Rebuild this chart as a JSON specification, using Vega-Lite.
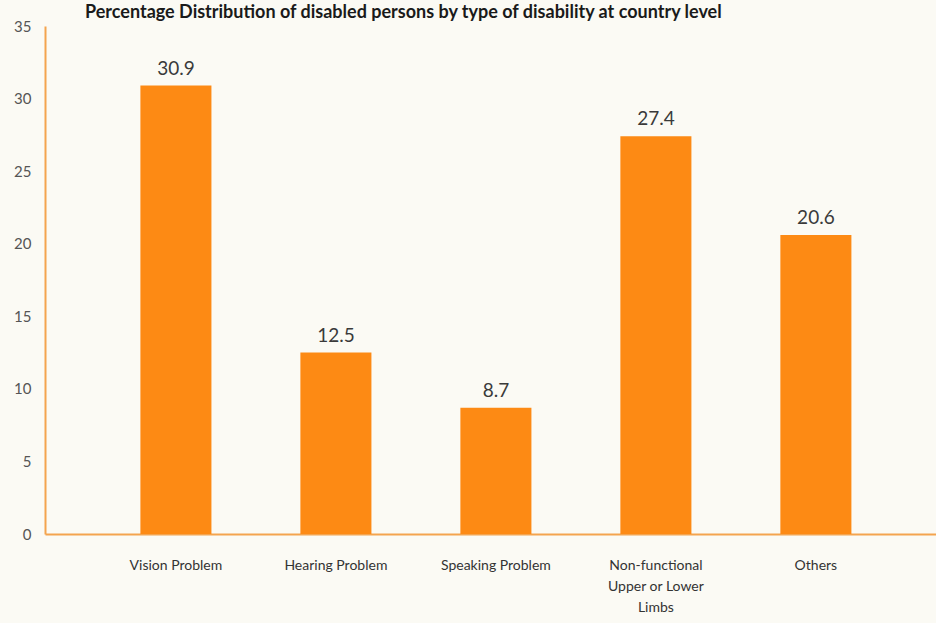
{
  "$schema": "https://vega.github.io/schema/vega-lite/v6.json",
  "width": 891,
  "height": 508,
  "autosize": {"type": "none"},
  "padding": {"left": 45, "top": 26, "right": 0, "bottom": 89},
  "background": "#fbfaf4",
  "title": {
    "text": "Percentage Distribution of disabled persons by type of disability at country level",
    "anchor": "start",
    "frame": "group",
    "dx": 40,
    "dy": 23,
    "offset": 2,
    "font": "Lato",
    "fontSize": 18,
    "fontWeight": "bold",
    "color": "#1a1a1a",
    "baseline": "bottom"
  },
  "data": {
    "values": [
      {"type": "Vision Problem", "pct": 30.9},
      {"type": "Hearing Problem", "pct": 12.5},
      {"type": "Speaking Problem", "pct": 8.7},
      {"type": "Non-functional Upper or Lower Limbs", "pct": 27.4},
      {"type": "Others", "pct": 20.6}
    ]
  },
  "config": {
    "view": {"stroke": null},
    "font": "Lato"
  },
  "encoding": {
    "x": {
      "field": "type",
      "type": "nominal",
      "sort": null,
      "scale": {"paddingInner": 0.556, "paddingOuter": 0.5625, "align": 0.53},
      "axis": {
        "title": null,
        "labelAngle": 0,
        "ticks": false,
        "domainColor": "#f4a44e",
        "domainWidth": 2,
        "labelFont": "Lato",
        "labelFontSize": 14,
        "labelColor": "#333333",
        "labelPadding": 24,
        "labelLineHeight": 21,
        "labelBaseline": "top",
        "labelExpr": "datum.label == 'Non-functional Upper or Lower Limbs' ? ['Non-functional', 'Upper or Lower', 'Limbs'] : datum.label"
      }
    },
    "y": {
      "field": "pct",
      "type": "quantitative",
      "scale": {"domain": [0, 35], "nice": false},
      "axis": {
        "title": null,
        "values": [0, 5, 10, 15, 20, 25, 30, 35],
        "grid": false,
        "ticks": false,
        "domainColor": "#f4a44e",
        "domainWidth": 2,
        "labelFont": "Lato",
        "labelFontSize": 15,
        "labelColor": "#555555",
        "labelPadding": 14
      }
    }
  },
  "layer": [
    {
      "mark": {"type": "bar", "color": "#fd8a14"}
    },
    {
      "mark": {"type": "text", "baseline": "bottom", "dy": -7, "font": "Lato", "fontSize": 19, "color": "#3a3a3a"},
      "encoding": {
        "text": {"field": "pct", "type": "quantitative", "format": ".1f"}
      }
    }
  ]
}
